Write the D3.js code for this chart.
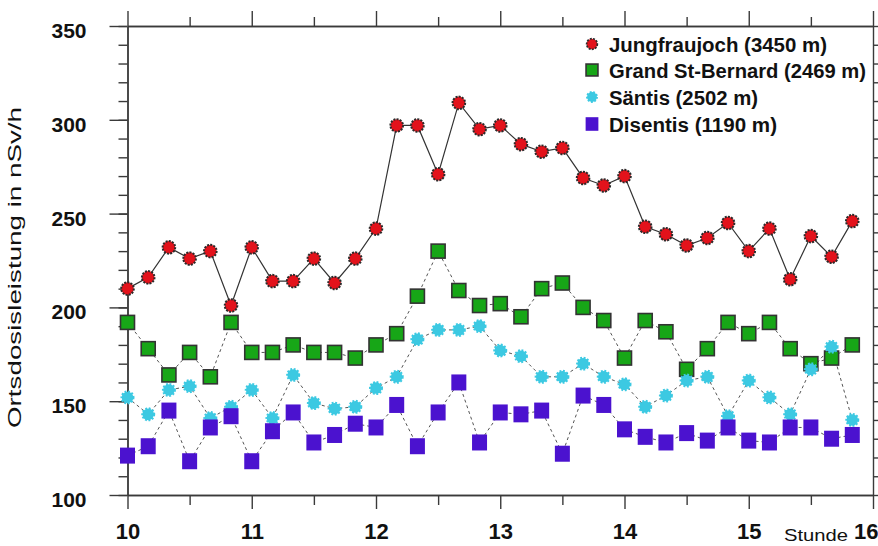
<!DOCTYPE html>
<html>
<head>
<meta charset="utf-8">
<script src="https://cdn.jsdelivr.net/npm/d3@7"></script>
<style>
  body { margin: 0; background: #fff; }
  svg { display: block; font-family: "Liberation Sans", Arial, sans-serif; }
  .axis path, .axis line { stroke: #3a3a3a; stroke-width: 1.4; }
</style>
</head>
<body>
<div id="chart"></div>
<script>
// Zeitpunkte (alle 10 Minuten)
const times = ['10:00','10:10','10:20','10:30','10:40','10:50',
  '11:00','11:10','11:20','11:30','11:40','11:50',
  '12:00','12:10','12:20','12:30','12:40','12:50',
  '13:00','13:10','13:20','13:30','13:40','13:50',
  '14:00','14:10','14:20','14:30','14:40','14:50',
  '15:00','15:10','15:20','15:30','15:40','15:50'];

const jungfraujoch = [210,216,232,226,230,201, 232,214,214,226,213,226,
  242,297,297,271,309,295, 297,287,283,285,269,265,
  270,243,239,233,237,245, 230,242,215,238,227,246];
const grandStBernard = [192,178,164,176,163,192, 176,176,180,176,176,173,
  180,186,206,230,209,201, 202,195,210,213,200,193,
  173,193,187,167,178,192, 186,192,178,170,173,180];
const saentis = [152,143,156,158,141,147, 156,141,164,149,146,147,
  157,163,183,188,188,190, 177,174,163,163,170,163,
  159,147,153,161,163,142, 161,152,143,167,179,140];
const disentis = [121,126,145,118,136,142, 118,134,144,128,132,138,
  136,148,126,144,160,128, 144,143,145,122,153,148,
  135,131,128,133,129,136, 129,128,136,136,130,132];

const seriesNames = ['Jungfraujoch (3450 m)', 'Grand St-Bernard (2469 m)',
  'Säntis (2502 m)', 'Disentis (1190 m)'];

const xTicks = [10, 11, 12, 13, 14, 15, 16];
const xHalfTicks = [10.5, 11.5, 12.5, 13.5, 14.5, 15.5];
const yTicks = [100, 150, 200, 250, 300, 350];

const width = 878, height = 546;
const margin = { top: 26, right: 5, bottom: 51, left: 127.5 };

const svg = d3.select('#chart').append('svg')
  .attr('width', width)
  .attr('height', height);

const x = d3.scaleLinear().domain([10, 16]).range([margin.left, width - margin.right]);
const y = d3.scaleLinear().domain([100, 350]).range([height - margin.bottom, margin.top]);

const hour = t => { const p = t.split(':'); return +p[0] + (+p[1]) / 60; };
const yMinor = d3.range(100, 351, 10);

// Achsen
svg.append('g').attr('class', 'axis')
  .attr('transform', `translate(0, ${y(100)})`)
  .call(d3.axisBottom(x).tickValues(xHalfTicks).tickSize(10).tickSizeOuter(0).tickFormat(''));
const xAxis = svg.append('g').attr('class', 'axis')
  .attr('transform', `translate(0, ${y(100)})`)
  .call(d3.axisBottom(x).tickValues(xTicks).tickSize(14).tickSizeOuter(0).tickPadding(14).tickFormat(d3.format('d')));
xAxis.selectAll('text')
  .style('font-size', '22px').style('font-weight', 'bold').attr('fill', '#111')
  .filter(d => d === 16).attr('text-anchor', 'end').attr('dx', 5);

svg.append('g').attr('class', 'axis')
  .attr('transform', `translate(0, ${y(350)})`)
  .call(d3.axisTop(x).tickValues(xHalfTicks).tickSize(9).tickSizeOuter(0).tickFormat(''));
svg.append('g').attr('class', 'axis')
  .attr('transform', `translate(0, ${y(350)})`)
  .call(d3.axisTop(x).tickValues(xTicks).tickSize(15).tickSizeOuter(0).tickFormat(''));

svg.append('g').attr('class', 'axis')
  .attr('transform', `translate(${x(10)}, 0)`)
  .call(d3.axisLeft(y).tickValues(yMinor).tickSize(9).tickSizeOuter(0).tickFormat(''));
const yAxis = svg.append('g').attr('class', 'axis')
  .attr('transform', `translate(${x(10)}, 0)`)
  .call(d3.axisLeft(y).tickValues(yTicks).tickSize(18).tickSizeOuter(0).tickPadding(23));
yAxis.selectAll('text')
  .style('font-size', '21px').style('font-weight', 'bold').attr('fill', '#111')
  .attr('dy', '0.55em');

svg.append('g').attr('class', 'axis')
  .attr('transform', `translate(${x(16)}, 0)`)
  .call(d3.axisRight(y).tickValues(yMinor).tickSize(5).tickSizeOuter(0).tickFormat(''));

// Achsentitel
svg.append('text')
  .attr('transform', `translate(21, ${(107 + 428) / 2}) rotate(-90)`)
  .attr('text-anchor', 'middle')
  .attr('textLength', 321).attr('lengthAdjust', 'spacingAndGlyphs')
  .style('font-size', '19px').attr('fill', '#111')
  .text('Ortsdosisleistung in nSv/h');

svg.append('text')
  .attr('x', 784).attr('y', 541)
  .attr('textLength', 64).attr('lengthAdjust', 'spacingAndGlyphs')
  .style('font-size', '17px').attr('fill', '#111')
  .text('Stunde');

// Linien und Marker
const line = d3.line().x((d, i) => x(hour(times[i]))).y(d => y(d));

const series = [
  { values: jungfraujoch, kind: 'circle', fill: '#e3121b', stroke: '#2b2b2b', dash: null },
  { values: grandStBernard, kind: 'square', fill: '#17a617', stroke: '#333', dash: '3,3' },
  { values: saentis, kind: 'star', fill: '#3cc9e2', stroke: '#3cc9e2', dash: '3,3' },
  { values: disentis, kind: 'block', fill: '#4b12cf', stroke: 'none', dash: '3,3' }
];

function drawMarker(sel, kind, fill, stroke, s) {
  if (kind === 'circle') {
    sel.append('circle').attr('r', 6.3 * s).attr('fill', fill)
      .attr('stroke', stroke).attr('stroke-width', 2 * s).attr('stroke-dasharray', '2,1.2');
  } else if (kind === 'square') {
    sel.append('rect').attr('x', -7 * s).attr('y', -7 * s).attr('width', 14 * s).attr('height', 14 * s)
      .attr('fill', fill).attr('stroke', stroke).attr('stroke-width', 1.6);
  } else if (kind === 'star') {
    sel.append('circle').attr('r', 5.8 * s).attr('fill', fill)
      .attr('stroke', stroke).attr('stroke-width', 2.4 * s).attr('stroke-dasharray', '1.8,1.6');
  } else {
    sel.append('rect').attr('x', -7.5 * s).attr('y', -8 * s).attr('width', 15 * s).attr('height', 16 * s)
      .attr('fill', fill);
  }
}

series.forEach(sr => {
  svg.append('path')
    .datum(sr.values)
    .attr('d', line)
    .attr('fill', 'none')
    .attr('stroke', sr.dash ? '#555' : '#333')
    .attr('stroke-width', sr.dash ? 1 : 1.2)
    .attr('stroke-dasharray', sr.dash);
});

series.forEach(sr => {
  svg.append('g').selectAll('g')
    .data(sr.values)
    .enter().append('g')
    .attr('transform', (d, i) => `translate(${x(hour(times[i]))}, ${y(d)})`)
    .each(function () { drawMarker(d3.select(this), sr.kind, sr.fill, sr.stroke, 1); });
});

// Legende
const legendBase = [52, 78, 105, 132];
const legendLen = [218, 257, 149, 168];
series.forEach((sr, i) => {
  const g = svg.append('g').attr('transform', `translate(592, ${legendBase[i] - 8})`);
  drawMarker(g, sr.kind, sr.fill, sr.stroke, 0.85);
  svg.append('text')
    .attr('x', 609).attr('y', legendBase[i])
    .attr('textLength', legendLen[i]).attr('lengthAdjust', 'spacingAndGlyphs')
    .style('font-size', '20px').style('font-weight', 'bold').attr('fill', '#111')
    .text(seriesNames[i]);
});
</script>
</body>
</html>
